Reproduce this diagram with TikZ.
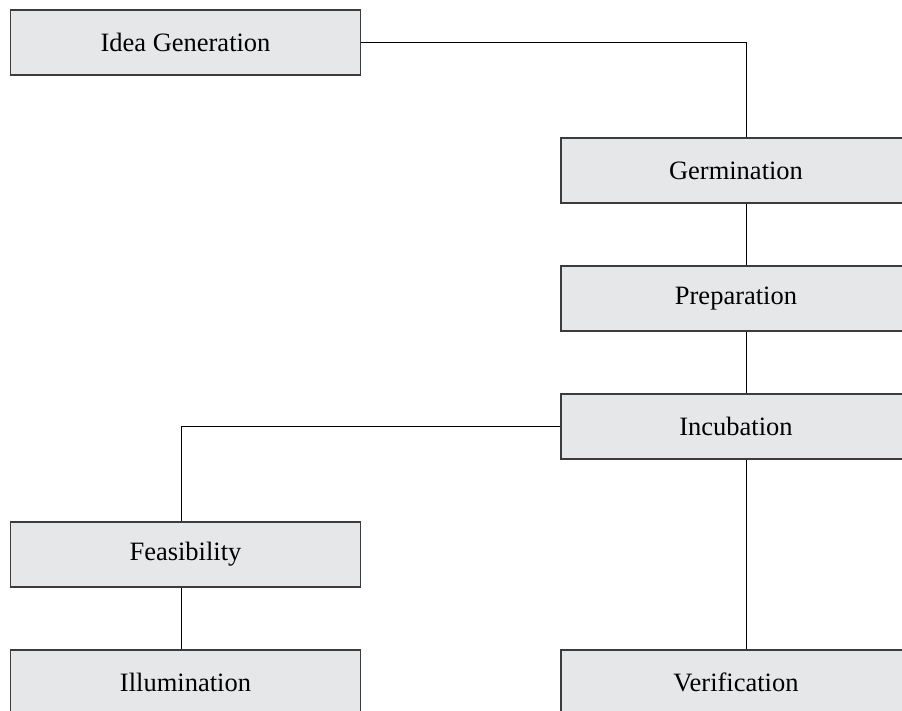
\documentclass[tikz,border=0pt]{standalone}
\usepackage{fontspec}
\setmainfont{Liberation Serif}
\definecolor{boxfill}{RGB}{230,231,232}
\definecolor{boxline}{RGB}{60,60,60}
\tikzset{
    stagebox/.style={draw=boxline,fill=boxfill,line width=1.3pt,minimum width=350pt,minimum height=65pt,inner sep=0pt,font=\fontsize{26.5}{31}\selectfont},
    link/.style={draw=black,line width=1pt}
}
\begin{document}
\begin{tikzpicture}[x=1pt,y=-1pt]
        \useasboundingbox (0,0) rectangle (902,710);
        \clip (0,0) rectangle (902,710);
        \node[stagebox] (idea) at (185.5,42.5) {Idea Generation};
        \node[stagebox] (germ) at (736,170.5) {Germination};
        \node[stagebox] (prep) at (736,298.5) {Preparation};
        \node[stagebox] (incub) at (736,426.5) {Incubation};
        \node[stagebox] (feas) at (185.5,554.5) {Feasibility};
        \node[stagebox] (illum) at (185.5,682.5) {Illumination};
        \node[stagebox] (verif) at (736,682.5) {Verification};
        % connectors
        \draw[link] (idea.east) -| ([xshift=10pt]germ.north);
        \draw[link] ([xshift=10pt]germ.south) -- ([xshift=10pt]prep.north);
        \draw[link] ([xshift=10pt]prep.south) -- ([xshift=10pt]incub.north);
        \draw[link] (incub.west) -| ([xshift=-4pt]feas.north);
        \draw[link] ([xshift=-4pt]feas.south) -- ([xshift=-4pt]illum.north);
        \draw[link] ([xshift=10pt]incub.south) -- ([xshift=10pt]verif.north);
\end{tikzpicture}
\end{document}
